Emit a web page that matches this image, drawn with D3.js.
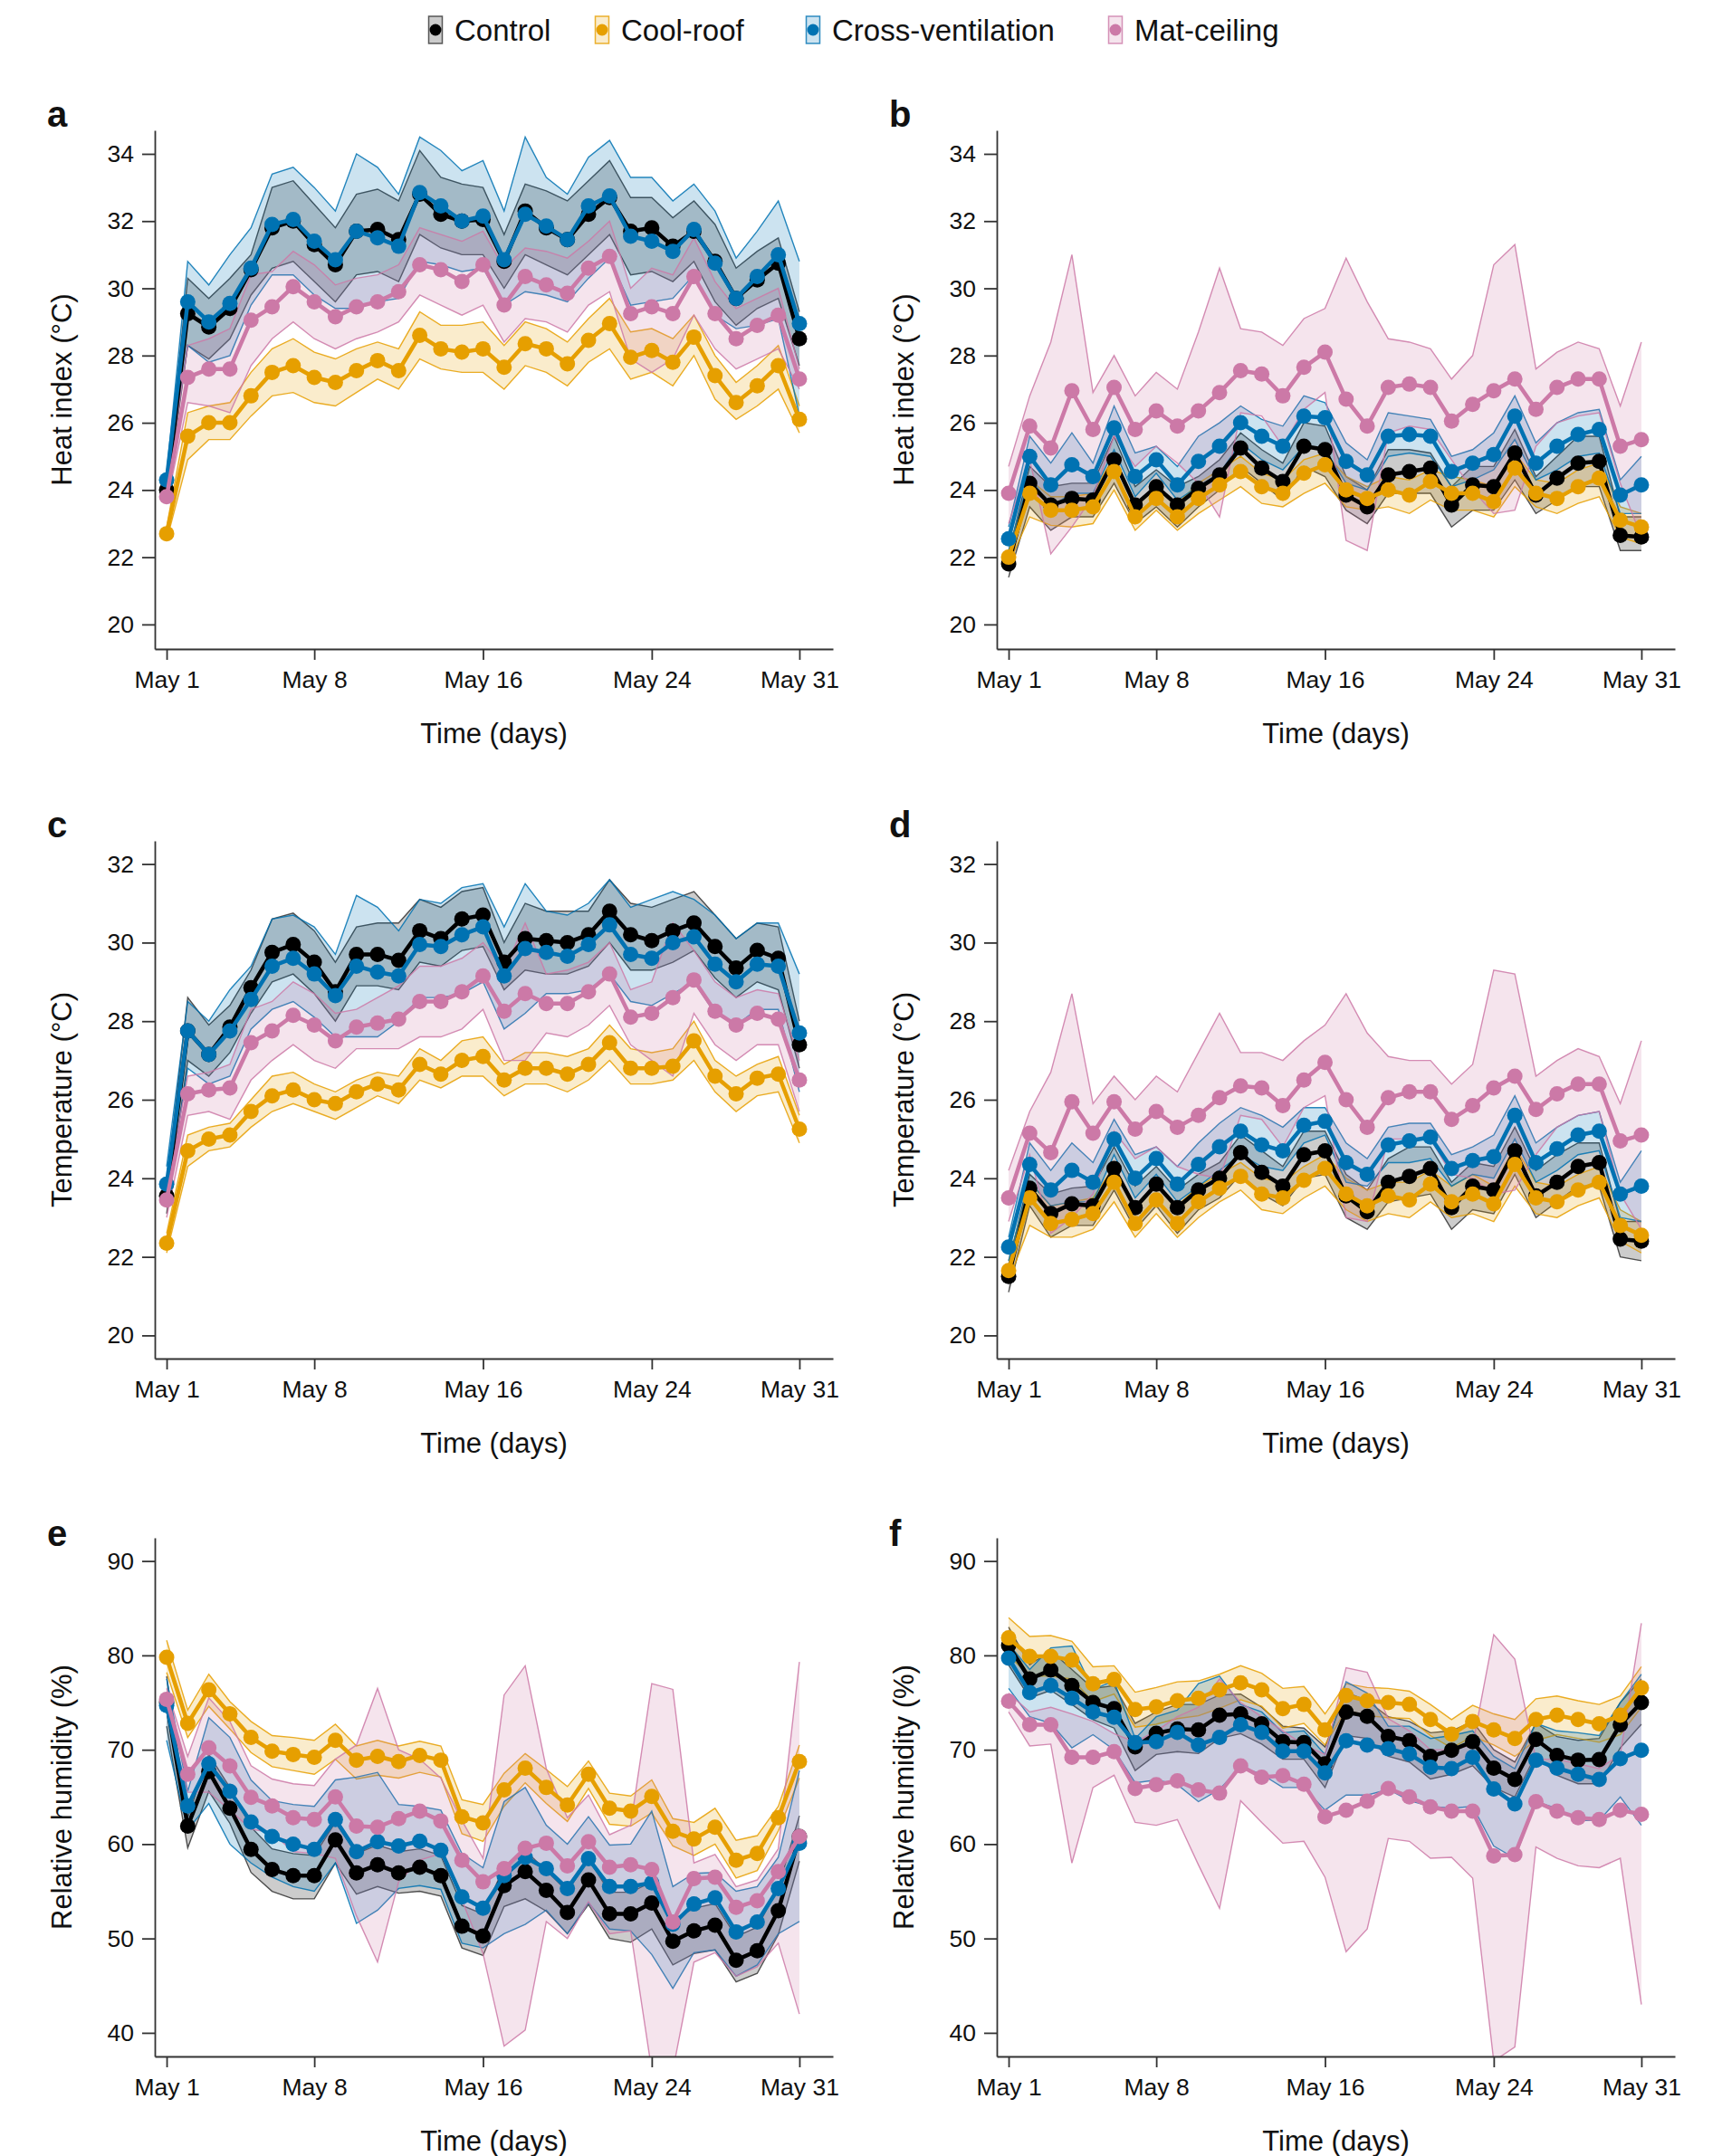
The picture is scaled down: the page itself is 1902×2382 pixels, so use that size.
<!DOCTYPE html>
<html>
<head>
<meta charset="utf-8">
<script src="https://cdnjs.cloudflare.com/ajax/libs/d3/7.8.5/d3.min.js"></script>
<style>
  body { margin: 0; background: #fff; }
  text { font-family: "Liberation Sans", Arial, sans-serif; fill: #111; }
</style>
</head>
<body>
<svg id="chart" width="1902" height="2382"></svg>
<script>
// days of May
var days = d3.range(1, 32);
var tickDays = [1, 8, 16, 24, 31];
var tickLabels = ["May 1", "May 8", "May 16", "May 24", "May 31"];
var seriesNames = ["Control", "Cool-roof", "Cross-ventilation", "Mat-ceiling"];
var seriesColors = ["#000000", "#E69F00", "#0072B2", "#CC79A7"];
var edgeColors = ["#333333", "#E69F00", "#0072B2", "#CC79A7"];

// a: heat index, house 1
var a_control = [24.0,29.25,28.85,29.4,30.55,31.8,32.0,31.3,30.7,31.7,31.75,31.45,32.8,32.2,32.0,32.05,30.8,32.3,31.8,31.45,32.2,32.7,31.7,31.8,31.25,31.7,30.8,29.7,30.25,30.75,28.5];
var a_control_lo = [23.7,28.3,27.9,28.5,29.8,30.6,30.8,30.2,29.6,30.4,30.5,30.2,31.6,31.2,31.0,31.0,30.0,31.0,30.7,30.4,31.0,31.6,30.4,30.5,30.2,30.8,29.6,28.9,29.4,29.7,27.7];
var a_control_hi = [24.2,30.3,29.7,30.3,31.0,33.0,33.2,32.5,31.8,32.8,32.95,32.6,34.1,33.3,33.1,33.0,31.6,33.1,32.9,32.6,33.2,33.8,32.7,32.7,32.1,32.6,31.9,30.6,31.1,31.5,29.3];
var a_cool = [22.7,25.6,26.0,26.0,26.8,27.5,27.7,27.35,27.2,27.55,27.85,27.55,28.6,28.2,28.1,28.2,27.65,28.35,28.2,27.75,28.45,28.95,27.95,28.15,27.8,28.55,27.4,26.6,27.1,27.7,26.1];
var a_cool_lo = [22.5,24.9,25.5,25.5,26.2,26.8,26.9,26.6,26.5,26.9,27.3,27.0,27.9,27.6,27.5,27.5,27.0,27.7,27.5,27.1,27.8,28.2,27.3,27.5,27.1,28.0,26.7,26.1,26.5,27.0,25.7];
var a_cool_hi = [22.9,26.3,26.5,26.6,27.5,28.2,28.5,28.1,27.9,28.2,28.4,28.2,29.3,28.9,28.9,29.0,28.3,29.0,28.8,28.4,29.1,29.7,28.7,28.8,28.5,29.2,28.0,27.2,27.7,28.3,26.5];
var a_cross = [24.3,29.6,29.0,29.55,30.6,31.9,32.05,31.4,30.85,31.7,31.5,31.25,32.85,32.45,32.0,32.15,30.85,32.2,31.85,31.45,32.45,32.75,31.55,31.4,31.1,31.75,30.75,29.7,30.35,31.0,28.95];
var a_cross_lo = [24.0,28.3,27.8,28.0,29.5,30.4,30.4,29.8,29.4,29.4,29.6,29.7,30.8,30.7,30.5,30.6,29.5,29.9,29.8,29.6,30.3,30.9,29.5,29.6,29.7,30.4,29.2,28.8,28.9,29.1,26.2];
var a_cross_hi = [24.5,30.8,30.1,31.0,31.8,33.4,33.6,33.0,32.3,34.0,33.6,32.8,34.5,34.1,33.5,33.8,32.3,34.5,33.3,32.8,33.9,34.4,33.3,33.3,32.6,33.1,32.3,30.9,31.7,32.6,30.8];
var a_mat = [23.8,27.35,27.6,27.6,29.05,29.45,30.05,29.6,29.15,29.45,29.6,29.9,30.7,30.55,30.2,30.7,29.5,30.35,30.1,29.85,30.6,30.95,29.25,29.45,29.25,30.35,29.25,28.5,28.9,29.2,27.3];
var a_mat_lo = [23.6,26.6,26.5,26.3,27.7,28.5,29.0,28.5,28.2,28.5,28.7,29.0,29.8,29.5,29.2,29.5,28.4,29.1,29.0,28.7,29.5,29.9,27.9,27.5,27.9,29.2,28.2,27.6,27.9,28.2,27.0];
var a_mat_hi = [24.0,28.3,28.5,28.8,30.4,30.5,31.1,30.7,30.1,30.3,30.4,30.7,31.8,31.6,31.4,31.7,30.6,31.2,31.1,30.9,31.4,32.0,30.0,30.6,30.4,31.5,30.2,29.4,29.7,30.0,27.6];

// b: heat index, house 2
var b_control = [21.8,24.2,23.55,23.75,23.7,24.9,23.55,24.1,23.55,24.05,24.45,25.25,24.65,24.25,25.3,25.2,23.85,23.5,24.45,24.55,24.65,23.55,24.15,24.1,25.1,23.85,24.35,24.8,24.85,22.65,22.6];
var b_control_lo = [21.4,23.5,22.8,23.2,23.2,24.2,23.0,23.5,22.9,23.5,24.0,24.7,24.2,23.7,24.7,24.4,23.4,23.0,23.9,23.9,23.9,22.9,23.4,23.4,24.3,23.3,23.7,24.1,24.1,22.2,22.2];
var b_control_hi = [22.1,24.7,24.1,24.2,24.2,25.6,24.1,24.6,24.1,24.4,24.9,25.7,25.2,24.8,26.0,25.9,24.4,24.0,25.2,25.2,25.1,24.1,24.7,24.7,25.8,24.4,25.0,25.6,25.6,23.2,23.2];
var b_cool = [22.0,23.9,23.4,23.4,23.5,24.55,23.2,23.75,23.2,23.75,24.15,24.55,24.1,23.9,24.5,24.75,24.0,23.75,24.0,23.85,24.25,23.9,23.9,23.65,24.65,23.9,23.75,24.1,24.35,23.1,22.9];
var b_cool_lo = [21.8,23.2,22.95,22.9,23.0,24.0,22.8,23.4,22.8,23.3,23.7,24.1,23.6,23.5,23.9,24.2,23.5,23.4,23.5,23.3,23.7,23.4,23.4,23.2,24.1,23.5,23.3,23.6,23.8,22.6,22.4];
var b_cool_hi = [22.2,24.3,23.8,23.8,23.9,25.0,23.6,24.1,23.6,24.2,24.6,25.0,24.5,24.3,24.9,25.1,24.4,24.1,24.4,24.3,24.6,24.4,24.3,24.1,25.1,24.3,24.2,24.6,24.8,23.5,23.3];
var b_cross = [22.55,25.0,24.15,24.75,24.4,25.85,24.4,24.9,24.15,24.85,25.3,26.0,25.6,25.3,26.2,26.15,24.85,24.45,25.6,25.65,25.6,24.55,24.8,25.05,26.2,24.8,25.3,25.65,25.8,23.85,24.15];
var b_cross_lo = [22.2,24.4,23.5,23.9,23.9,25.2,23.8,24.5,23.7,24.1,24.5,25.4,24.9,24.6,25.3,25.2,24.2,24.0,25.0,25.1,25.0,24.1,24.3,24.6,25.5,24.3,24.6,25.0,25.1,23.3,23.3];
var b_cross_hi = [22.9,25.6,24.8,25.7,24.8,26.5,25.1,25.3,24.7,25.6,26.0,26.5,26.1,25.9,26.8,26.6,25.4,24.9,26.3,26.2,26.1,25.0,25.2,25.7,26.8,25.4,26.0,26.3,26.4,24.3,25.0];
var b_mat = [23.9,25.9,25.25,26.95,25.8,27.05,25.8,26.35,25.9,26.35,26.9,27.55,27.45,26.8,27.65,28.1,26.7,25.9,27.05,27.15,27.05,26.05,26.55,26.95,27.3,26.4,27.05,27.3,27.3,25.3,25.5];
var b_mat_lo = [23.0,24.9,22.1,22.9,23.8,25.6,24.7,25.3,24.8,24.2,23.2,26.3,26.2,25.3,26.4,26.9,22.5,22.2,25.7,25.9,25.8,24.9,24.0,23.3,23.4,25.3,26.0,26.2,26.3,24.2,22.6];
var b_mat_hi = [24.7,26.8,28.4,31.0,26.9,28.0,26.8,27.5,27.0,28.7,30.6,28.8,28.7,28.3,29.1,29.4,30.9,29.6,28.5,28.4,28.2,27.3,28.0,30.7,31.3,27.6,28.1,28.4,28.2,26.5,28.4];

// c: temperature, house 1
var c_control = [23.55,27.75,27.15,27.85,28.85,29.75,29.95,29.5,28.75,29.7,29.7,29.55,30.3,30.1,30.6,30.7,29.5,30.1,30.05,30.0,30.2,30.8,30.2,30.05,30.3,30.5,29.9,29.35,29.8,29.6,27.4];
var c_control_lo = [23.1,27.0,26.6,27.2,28.2,29.0,29.2,28.7,28.0,28.9,28.9,28.8,29.5,29.4,29.8,29.9,28.8,29.3,29.2,29.2,29.4,30.0,29.3,29.3,29.5,29.8,29.1,28.6,29.0,28.8,26.8];
var c_control_hi = [23.8,28.6,27.9,28.4,29.3,30.6,30.75,30.3,29.5,30.4,30.5,30.5,31.1,30.9,31.3,31.4,30.0,31.0,30.8,30.8,30.8,31.6,31.0,30.9,31.1,31.3,30.7,30.1,30.5,30.4,28.0];
var c_cool = [22.35,24.7,25.0,25.1,25.7,26.1,26.25,26.0,25.9,26.2,26.4,26.25,26.9,26.65,27.0,27.1,26.5,26.8,26.8,26.65,26.9,27.45,26.8,26.8,26.85,27.5,26.6,26.15,26.55,26.65,25.25];
var c_cool_lo = [22.1,24.3,24.7,24.8,25.3,25.7,25.9,25.7,25.5,25.8,26.1,25.9,26.5,26.3,26.6,26.6,26.1,26.4,26.4,26.2,26.5,27.0,26.4,26.4,26.5,27.0,26.2,25.7,26.1,26.2,24.9];
var c_cool_hi = [22.6,25.1,25.3,25.4,26.0,26.6,26.7,26.4,26.2,26.5,26.7,26.6,27.3,27.0,27.5,27.6,26.9,27.2,27.2,27.1,27.3,27.9,27.3,27.2,27.3,28.0,27.0,26.6,26.9,27.1,25.6];
var c_cross = [23.85,27.75,27.15,27.75,28.55,29.4,29.6,29.2,28.65,29.4,29.25,29.15,29.95,29.9,30.2,30.4,29.15,29.85,29.75,29.65,29.95,30.45,29.7,29.6,30.0,30.15,29.45,29.0,29.45,29.4,27.7];
var c_cross_lo = [23.4,26.8,26.4,26.6,27.8,28.3,28.5,28.1,27.6,27.6,27.6,28.0,28.6,28.6,28.7,29.0,27.8,28.2,28.7,28.7,28.8,29.2,28.5,28.4,28.7,29.0,28.2,27.9,28.3,28.3,26.2];
var c_cross_hi = [24.3,28.5,28.0,28.8,29.4,30.6,30.7,30.4,29.7,31.2,30.9,30.3,31.1,31.0,31.4,31.5,30.4,31.5,30.8,30.7,31.0,31.6,30.9,31.1,31.3,31.1,30.7,30.1,30.5,30.5,29.2];
var c_mat = [23.45,26.15,26.25,26.3,27.45,27.75,28.15,27.9,27.5,27.85,27.95,28.05,28.5,28.5,28.75,29.15,28.25,28.7,28.45,28.45,28.75,29.2,28.1,28.2,28.6,29.05,28.25,27.9,28.2,28.05,26.5];
var c_mat_lo = [23.0,25.6,25.7,25.5,26.5,27.0,27.4,27.0,26.8,27.3,27.3,27.3,27.6,27.6,27.8,28.3,27.0,27.0,27.7,27.6,27.9,28.4,27.4,27.0,26.6,28.2,27.4,27.0,27.4,27.4,25.7];
var c_mat_hi = [23.7,26.6,26.7,26.9,28.3,28.5,29.0,28.7,28.2,28.3,28.6,28.9,29.4,29.4,29.6,30.0,29.3,30.5,29.2,29.3,29.5,30.0,28.8,29.0,30.5,29.8,29.0,28.6,28.8,28.7,27.0];

// d: temperature, house 2
var d_control = [21.5,23.75,23.1,23.35,23.3,24.25,23.25,23.85,23.25,23.7,24.0,24.65,24.15,23.8,24.6,24.7,23.55,23.15,23.9,24.05,24.25,23.25,23.8,23.7,24.7,23.55,23.9,24.3,24.4,22.45,22.4];
var d_control_lo = [21.1,23.3,22.5,22.8,22.8,23.7,22.7,23.3,22.6,23.2,23.5,24.1,23.6,23.3,24.0,24.1,23.0,22.7,23.4,23.5,23.6,22.7,23.2,23.1,24.1,23.0,23.4,23.8,23.8,22.0,21.9];
var d_control_hi = [21.8,24.1,23.6,23.75,23.8,24.8,23.8,24.3,23.7,24.1,24.4,25.1,24.7,24.3,25.2,25.2,24.1,23.7,24.5,24.8,24.8,23.9,24.4,24.3,25.3,24.2,24.6,24.9,24.9,22.9,22.9];
var d_cool = [21.65,23.5,22.85,22.95,23.1,23.9,22.85,23.45,22.85,23.4,23.75,24.05,23.6,23.5,23.95,24.25,23.6,23.3,23.55,23.45,23.85,23.4,23.6,23.35,24.35,23.5,23.4,23.7,23.9,22.8,22.55];
var d_cool_lo = [21.4,22.8,22.5,22.5,22.7,23.4,22.5,23.1,22.5,23.0,23.4,23.7,23.2,23.1,23.5,23.8,23.2,22.9,23.1,23.0,23.4,23.0,23.1,22.9,23.8,23.1,23.0,23.3,23.5,22.4,22.1];
var d_cool_hi = [21.9,23.9,23.3,23.4,23.5,24.3,23.3,23.8,23.3,23.8,24.1,24.4,24.0,23.9,24.3,24.6,24.0,23.7,23.9,23.9,24.2,23.8,24.1,23.8,24.8,23.9,23.8,24.1,24.3,23.2,22.9];
var d_cross = [22.25,24.35,23.7,24.2,23.9,25.0,24.0,24.5,23.85,24.35,24.8,25.2,24.85,24.7,25.35,25.45,24.4,24.1,24.85,24.95,25.05,24.25,24.45,24.55,25.6,24.4,24.75,25.1,25.2,23.6,23.8];
var d_cross_lo = [21.9,23.9,23.3,23.4,23.4,24.6,23.5,24.1,23.4,23.8,24.2,24.6,24.3,24.2,24.9,25.1,23.9,23.8,24.4,24.4,24.5,23.8,24.1,24.0,25.0,23.9,24.2,24.6,24.7,23.0,22.9];
var d_cross_hi = [22.5,24.9,24.2,24.9,24.4,25.5,24.6,24.8,24.3,24.9,25.4,25.8,25.6,25.3,25.8,25.8,24.9,24.5,25.3,25.4,25.4,24.6,24.8,25.1,26.1,24.9,25.3,25.6,25.7,23.9,24.7];
var d_mat = [23.5,25.15,24.65,25.95,25.15,25.95,25.25,25.7,25.3,25.6,26.05,26.35,26.3,25.85,26.5,26.95,26.0,25.3,26.05,26.2,26.2,25.5,25.85,26.3,26.6,25.75,26.15,26.4,26.4,24.95,25.1];
var d_mat_lo = [22.9,24.6,22.6,23.0,23.6,25.2,24.5,24.8,24.3,24.1,24.0,25.6,25.5,24.8,25.8,26.1,23.0,22.9,25.0,25.0,25.0,24.1,24.0,23.6,23.7,24.6,25.3,25.6,25.7,23.6,22.7];
var d_mat_hi = [24.2,25.7,26.7,28.7,25.9,26.6,26.0,26.6,26.2,27.2,28.2,27.2,27.2,27.0,27.5,27.9,28.7,27.7,27.1,27.0,27.0,26.4,26.9,29.3,29.2,26.6,27.0,27.3,27.1,25.9,27.5];

// e: relative humidity, house 1
var e_control = [75.0,61.9,67.7,63.8,59.45,57.3,56.65,56.65,60.45,56.95,57.8,56.95,57.55,56.65,51.3,50.25,55.6,57.1,55.1,52.75,56.2,52.6,52.6,53.75,49.7,50.8,51.4,47.7,48.7,52.95,60.8];
var e_control_lo = [72.5,59.6,65.6,62.2,57.0,55.0,54.2,54.2,58.0,54.7,55.5,54.8,55.0,54.5,49.0,48.2,53.4,54.2,52.9,50.5,53.6,50.0,49.6,51.0,47.2,48.4,48.8,45.4,46.3,50.4,58.2];
var e_control_hi = [77.8,62.8,69.5,66.0,61.8,59.5,59.0,58.8,62.3,59.0,59.9,59.2,59.5,58.8,53.5,52.6,57.6,59.3,57.2,55.0,58.4,54.9,54.9,56.0,52.0,53.2,53.7,50.2,51.2,55.4,63.0];
var e_cool = [79.8,72.8,76.35,73.8,71.3,69.85,69.5,69.2,71.0,68.9,69.3,68.75,69.4,68.9,62.9,62.25,65.75,68.05,66.0,64.15,67.4,63.8,63.5,65.05,61.35,60.55,61.8,58.3,59.0,62.8,68.75];
var e_cool_lo = [78.2,71.3,74.6,72.2,69.7,68.2,67.8,67.4,69.0,66.9,67.3,67.0,67.6,67.1,61.1,60.3,64.0,66.5,64.3,62.4,65.9,62.1,61.9,63.3,59.8,58.8,60.0,56.4,57.2,61.4,67.0];
var e_cool_hi = [81.6,74.2,78.0,75.1,73.0,71.5,71.3,71.0,72.7,70.4,71.0,70.4,70.9,70.4,64.7,64.2,67.5,69.6,67.9,66.1,68.8,65.4,65.1,66.8,62.7,62.3,63.8,60.4,60.9,64.0,70.5];
var e_cross = [74.7,64.05,68.5,65.6,62.35,60.8,60.0,59.45,62.6,59.2,60.25,59.8,60.3,59.35,54.4,53.2,56.65,58.6,57.4,55.3,58.45,55.5,55.5,55.9,51.5,53.65,54.3,50.7,51.75,55.3,60.1];
var e_cross_lo = [71.0,61.5,64.3,60.0,58.0,56.5,55.5,55.0,58.0,51.6,53.0,55.3,55.6,55.2,49.5,49.0,50.5,51.5,53.0,50.5,53.8,51.0,50.8,48.3,44.7,48.5,48.8,46.0,47.2,50.5,51.8];
var e_cross_hi = [77.5,65.6,73.4,71.3,66.8,64.6,64.2,64.0,66.8,67.1,67.6,64.2,64.0,63.6,59.0,57.5,64.5,66.0,62.0,60.0,62.9,59.9,60.0,63.5,55.5,56.9,57.0,55.0,55.5,58.6,67.8];
var e_mat = [75.35,67.4,70.2,68.3,64.95,64.05,62.8,62.6,65.0,61.9,61.8,62.7,63.5,62.45,58.3,56.0,57.4,59.55,60.1,57.7,60.25,57.55,57.8,57.3,51.75,56.35,56.5,53.3,54.0,57.1,60.8];
var e_mat_lo = [74.2,65.5,65.5,63.6,61.6,61.2,59.2,59.0,58.5,52.4,47.5,56.0,58.3,59.0,54.1,48.4,38.6,40.3,51.8,50.0,53.9,50.5,50.8,36.0,36.0,47.5,48.5,46.0,47.0,49.5,42.0];
var e_mat_hi = [76.5,69.3,75.5,73.0,68.3,66.9,66.4,66.2,69.0,70.5,76.5,70.0,69.0,67.0,62.5,58.5,75.8,78.9,68.0,62.8,65.2,61.0,62.0,77.0,76.4,58.0,58.9,55.5,56.2,59.5,79.3];

// f: relative humidity, house 2
var f_control = [81.05,77.5,78.45,76.8,75.0,74.35,70.3,71.75,72.2,72.1,73.65,73.8,72.75,70.85,70.75,68.5,74.0,73.55,71.4,70.95,69.3,69.95,70.85,68.05,66.85,71.1,69.4,68.9,68.95,72.65,75.0];
var f_control_lo = [79.0,75.5,76.3,74.8,73.2,72.3,67.8,69.5,69.8,69.6,71.2,71.7,70.6,69.0,69.0,66.0,71.5,71.2,69.3,68.7,66.9,67.4,68.3,66.0,65.0,69.5,67.3,66.4,66.4,70.2,72.7];
var f_control_hi = [83.0,79.0,80.5,78.5,76.5,76.8,72.8,74.0,74.8,74.8,75.8,75.9,74.5,72.5,72.3,70.3,76.1,75.2,73.5,73.0,71.8,72.0,73.0,70.0,68.7,72.8,71.4,71.0,71.2,75.0,77.5];
var f_cool = [81.85,79.9,79.9,79.5,77.0,77.45,74.25,74.55,75.2,75.45,76.35,77.1,76.35,74.35,74.8,72.1,75.75,75.2,75.0,74.8,73.2,71.65,73.0,72.1,71.2,73.2,73.65,73.2,72.75,73.65,76.55];
var f_cool_lo = [80.0,77.8,77.8,77.5,75.1,75.9,72.4,72.7,73.3,73.6,74.4,75.3,74.6,72.3,72.8,70.5,74.2,73.6,73.4,73.3,71.5,70.2,71.4,70.5,69.3,71.0,71.6,71.2,70.8,71.6,74.5];
var f_cool_hi = [84.0,82.0,82.1,81.5,78.8,78.9,76.1,76.6,77.2,77.3,78.0,78.9,78.1,76.5,76.7,73.8,77.0,76.6,76.5,76.2,74.8,73.2,74.7,73.8,73.2,75.4,75.7,75.2,74.8,75.7,78.8];
var f_cross = [79.7,76.05,76.8,75.45,74.0,73.45,70.75,70.85,71.85,70.5,71.3,72.65,71.85,69.85,69.85,67.55,70.95,70.5,70.1,69.55,68.15,68.0,69.2,65.85,64.25,68.9,68.05,67.4,66.85,69.05,69.95];
var f_cross_lo = [76.5,73.5,72.8,70.2,71.6,70.0,66.5,66.8,66.3,64.5,65.8,68.2,67.4,66.0,66.0,63.6,65.2,65.2,65.8,64.6,64.0,63.8,64.0,59.8,58.5,64.5,63.8,62.5,62.5,65.0,62.0];
var f_cross_hi = [81.2,78.5,80.8,81.0,76.4,77.3,71.2,73.5,74.2,77.0,77.8,74.8,74.0,71.8,72.0,69.5,77.2,76.0,72.5,72.5,71.2,71.5,72.0,69.3,68.0,72.8,72.0,71.8,71.5,75.0,78.0];
var f_mat = [75.15,72.65,72.65,69.2,69.2,69.8,65.9,66.3,66.7,65.75,65.4,68.3,67.1,67.25,66.35,62.9,63.6,64.55,65.9,65.0,63.95,63.5,63.5,58.75,58.9,64.5,63.5,62.8,62.6,63.6,63.15];
var f_mat_lo = [74.0,70.4,70.6,58.0,66.0,67.3,62.3,62.0,62.6,57.8,53.2,64.6,62.3,60.1,60.3,56.5,48.6,51.0,60.6,60.3,58.5,58.6,56.4,37.0,38.5,59.7,58.5,57.7,57.5,58.5,43.0];
var f_mat_hi = [76.0,74.0,74.5,73.8,73.0,71.7,70.8,72.0,73.5,74.5,77.5,75.0,73.5,72.0,70.5,69.5,78.7,78.2,73.3,72.0,70.0,70.0,70.5,82.2,79.6,69.0,69.0,68.5,68.0,69.5,83.4];

var heatTicks = [20, 22, 24, 26, 28, 30, 32, 34];
var tempTicks = [20, 22, 24, 26, 28, 30, 32];
var rhTicks = [40, 50, 60, 70, 80, 90];

// layout
var cols = [{x0: 171, x1: 920, title: 68, letter: 52}, {x0: 1101, x1: 1850, title: 998, letter: 982}];
var rows = [{y0: 144, y1: 717, letter: 126}, {y0: 929, y1: 1501, letter: 911}, {y0: 1699, y1: 2272, letter: 1694}];

var panels = [
  {id: "a", col: 0, row: 0, label: "Heat index (°C)", ticks: heatTicks, domain: [19.27, 34.7],
   series: [[a_control, a_control_lo, a_control_hi], [a_cool, a_cool_lo, a_cool_hi], [a_cross, a_cross_lo, a_cross_hi], [a_mat, a_mat_lo, a_mat_hi]]},
  {id: "b", col: 1, row: 0, label: "Heat index (°C)", ticks: heatTicks, domain: [19.27, 34.7],
   series: [[b_control, b_control_lo, b_control_hi], [b_cool, b_cool_lo, b_cool_hi], [b_cross, b_cross_lo, b_cross_hi], [b_mat, b_mat_lo, b_mat_hi]]},
  {id: "c", col: 0, row: 1, label: "Temperature (°C)", ticks: tempTicks, domain: [19.41, 32.59],
   series: [[c_control, c_control_lo, c_control_hi], [c_cool, c_cool_lo, c_cool_hi], [c_cross, c_cross_lo, c_cross_hi], [c_mat, c_mat_lo, c_mat_hi]]},
  {id: "d", col: 1, row: 1, label: "Temperature (°C)", ticks: tempTicks, domain: [19.41, 32.59],
   series: [[d_control, d_control_lo, d_control_hi], [d_cool, d_cool_lo, d_cool_hi], [d_cross, d_cross_lo, d_cross_hi], [d_mat, d_mat_lo, d_mat_hi]]},
  {id: "e", col: 0, row: 2, label: "Relative humidity (%)", ticks: rhTicks, domain: [37.5, 92.46],
   series: [[e_control, e_control_lo, e_control_hi], [e_cool, e_cool_lo, e_cool_hi], [e_cross, e_cross_lo, e_cross_hi], [e_mat, e_mat_lo, e_mat_hi]]},
  {id: "f", col: 1, row: 2, label: "Relative humidity (%)", ticks: rhTicks, domain: [37.5, 92.46],
   series: [[f_control, f_control_lo, f_control_hi], [f_cool, f_cool_lo, f_cool_hi], [f_cross, f_cross_lo, f_cross_hi], [f_mat, f_mat_lo, f_mat_hi]]}
];

var svg = d3.select("#chart");
var defs = svg.append("defs");

function drawPanel(p){
  var c = cols[p.col], r = rows[p.row];
  var x = d3.scaleLinear().domain([0.44, 32.59]).range([c.x0, c.x1]);
  var y = d3.scaleLinear().domain(p.domain).range([r.y1, r.y0]);
  var g = svg.append("g").attr("class", "panel-" + p.id);

  defs.append("clipPath").attr("id", "clip-" + p.id)
    .append("rect").attr("x", c.x0).attr("y", r.y0).attr("width", c.x1 - c.x0).attr("height", r.y1 - r.y0);

  var plot = g.append("g").attr("clip-path", "url(#clip-" + p.id + ")");

  // bands first
  p.series.forEach(function(s, i){
    var lo = s[1], hi = s[2];
    var area = d3.area()
      .x(function(d, k){ return x(days[k]); })
      .y0(function(d, k){ return y(lo[k]); })
      .y1(function(d, k){ return y(hi[k]); });
    plot.append("path").datum(days).attr("d", area)
      .attr("fill", seriesColors[i]).attr("fill-opacity", 0.2).attr("stroke", "none");
    [lo, hi].forEach(function(edge){
      var ln = d3.line().x(function(d, k){ return x(days[k]); }).y(function(d, k){ return y(edge[k]); });
      plot.append("path").datum(days).attr("d", ln)
        .attr("fill", "none").attr("stroke", edgeColors[i]).attr("stroke-width", 1.4).attr("stroke-opacity", 0.85);
    });
  });

  // mean lines and points
  p.series.forEach(function(s, i){
    var mean = s[0];
    var ln = d3.line().x(function(d, k){ return x(days[k]); }).y(function(d, k){ return y(mean[k]); });
    plot.append("path").datum(days).attr("d", ln)
      .attr("fill", "none").attr("stroke", seriesColors[i]).attr("stroke-width", 4.5).attr("stroke-linejoin", "round");
    plot.selectAll(null).data(days).enter().append("circle")
      .attr("cx", function(d){ return x(d); })
      .attr("cy", function(d, k){ return y(mean[k]); })
      .attr("r", 8.5)
      .attr("fill", seriesColors[i]);
  });

  // axes
  var yAxis = d3.axisLeft(y).tickValues(p.ticks).tickSize(14).tickSizeOuter(0).tickPadding(9);
  var ya = g.append("g").attr("transform", "translate(" + c.x0 + ",0)").call(yAxis);
  var xAxis = d3.axisBottom(x).tickValues(tickDays).tickSize(12).tickSizeOuter(0).tickPadding(12)
    .tickFormat(function(d, k){ return tickLabels[k]; });
  var xa = g.append("g").attr("transform", "translate(0," + r.y1 + ")").call(xAxis);
  [ya, xa].forEach(function(a){
    a.selectAll("path, line").attr("stroke", "#333").attr("stroke-width", 1.8);
    a.selectAll("text").attr("font-size", 26.5).attr("fill", "#111")
      .attr("font-family", "'Liberation Sans', Arial, sans-serif");
  });

  g.append("text").attr("x", (c.x0 + c.x1) / 2).attr("y", r.y1 + 93)
    .attr("text-anchor", "middle").attr("dominant-baseline", "central")
    .attr("font-size", 31).text("Time (days)");
  g.append("text")
    .attr("transform", "translate(" + c.title + "," + ((r.y0 + r.y1) / 2) + ") rotate(-90)")
    .attr("text-anchor", "middle").attr("dominant-baseline", "central")
    .attr("font-size", 31).text(p.label);
  g.append("text").attr("x", c.letter).attr("y", r.letter)
    .attr("dominant-baseline", "central").attr("font-weight", "bold")
    .attr("font-size", 40).text(p.id);
}

panels.forEach(drawPanel);

// legend
var legendKeyX = [481, 665, 898, 1232];
var legend = svg.append("g").attr("class", "legend");
seriesNames.forEach(function(name, i){
  var kx = legendKeyX[i], ky = 33;
  legend.append("rect").attr("x", kx - 7.5).attr("y", ky - 15).attr("width", 15).attr("height", 30)
    .attr("fill", seriesColors[i]).attr("fill-opacity", 0.2)
    .attr("stroke", edgeColors[i]).attr("stroke-opacity", 0.8).attr("stroke-width", 1.5);
  legend.append("circle").attr("cx", kx).attr("cy", ky).attr("r", 6.5).attr("fill", seriesColors[i]);
  legend.append("text").attr("x", kx + 21).attr("y", ky)
    .attr("dominant-baseline", "central").attr("font-size", 33).text(name);
});
</script>
</body>
</html>
